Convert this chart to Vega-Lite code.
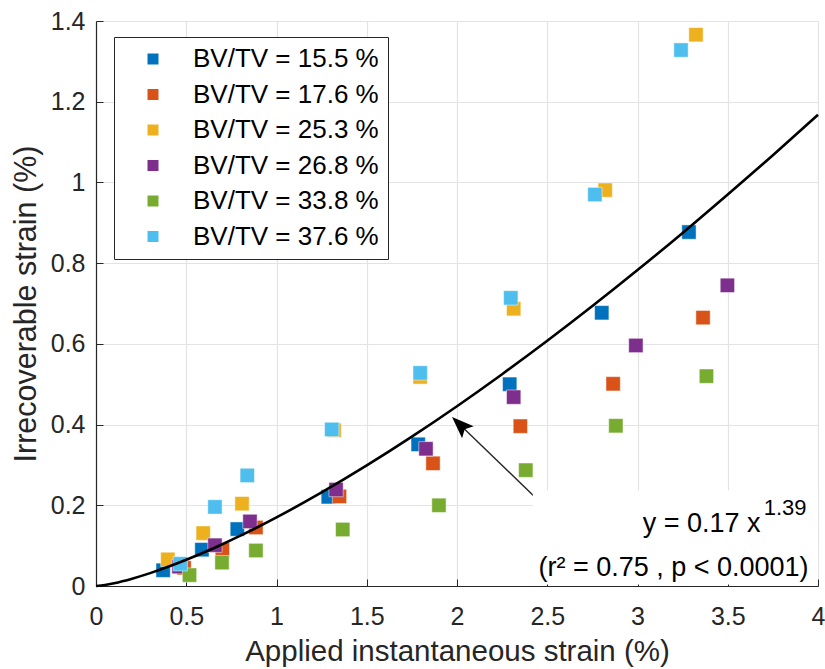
{
  "$schema": "https://vega.github.io/schema/vega-lite/v6.json",
  "width": 722,
  "height": 565,
  "autosize": {"type": "none"},
  "padding": {"left": 96, "top": 21, "right": 7, "bottom": 83},
  "background": "white",
  "config": {
    "view": {"stroke": null},
    "axis": {
      "domainColor": "#262626",
      "domainWidth": 1.2,
      "tickColor": "#262626",
      "tickSize": -7,
      "labelColor": "#262626",
      "titleColor": "#262626",
      "labelFont": "Liberation Sans",
      "titleFont": "Liberation Sans",
      "labelFontSize": 25,
      "titleFontSize": 29,
      "titleFontWeight": "normal",
      "labelFlush": false,
      "gridColor": "#e3e3e3",
      "gridWidth": 1.2,
      "zindex": 0
    }
  },
  "datasets": {
    "points": [
      {"group": "BV/TV = 15.5 %", "x": 0.372, "y": 0.039},
      {"group": "BV/TV = 15.5 %", "x": 0.587, "y": 0.09},
      {"group": "BV/TV = 15.5 %", "x": 0.783, "y": 0.141},
      {"group": "BV/TV = 15.5 %", "x": 1.287, "y": 0.221},
      {"group": "BV/TV = 15.5 %", "x": 1.785, "y": 0.351},
      {"group": "BV/TV = 15.5 %", "x": 2.292, "y": 0.5},
      {"group": "BV/TV = 15.5 %", "x": 2.802, "y": 0.677},
      {"group": "BV/TV = 15.5 %", "x": 3.285, "y": 0.877},
      {"group": "BV/TV = 17.6 %", "x": 0.488, "y": 0.045},
      {"group": "BV/TV = 17.6 %", "x": 0.7, "y": 0.09},
      {"group": "BV/TV = 17.6 %", "x": 0.886, "y": 0.145},
      {"group": "BV/TV = 17.6 %", "x": 1.349, "y": 0.222},
      {"group": "BV/TV = 17.6 %", "x": 1.867, "y": 0.304},
      {"group": "BV/TV = 17.6 %", "x": 2.351, "y": 0.396},
      {"group": "BV/TV = 17.6 %", "x": 2.865, "y": 0.501},
      {"group": "BV/TV = 17.6 %", "x": 3.363, "y": 0.665},
      {"group": "BV/TV = 25.3 %", "x": 0.398, "y": 0.066},
      {"group": "BV/TV = 25.3 %", "x": 0.594, "y": 0.131},
      {"group": "BV/TV = 25.3 %", "x": 0.809, "y": 0.204},
      {"group": "BV/TV = 25.3 %", "x": 1.319, "y": 0.386},
      {"group": "BV/TV = 25.3 %", "x": 1.796, "y": 0.518},
      {"group": "BV/TV = 25.3 %", "x": 2.314, "y": 0.687},
      {"group": "BV/TV = 25.3 %", "x": 2.821, "y": 0.981},
      {"group": "BV/TV = 25.3 %", "x": 3.324, "y": 1.366},
      {"group": "BV/TV = 26.8 %", "x": 0.46, "y": 0.048},
      {"group": "BV/TV = 26.8 %", "x": 0.659, "y": 0.101},
      {"group": "BV/TV = 26.8 %", "x": 0.853, "y": 0.16},
      {"group": "BV/TV = 26.8 %", "x": 1.33, "y": 0.239},
      {"group": "BV/TV = 26.8 %", "x": 1.828, "y": 0.34},
      {"group": "BV/TV = 26.8 %", "x": 2.314, "y": 0.468},
      {"group": "BV/TV = 26.8 %", "x": 2.991, "y": 0.596},
      {"group": "BV/TV = 26.8 %", "x": 3.498, "y": 0.745},
      {"group": "BV/TV = 33.8 %", "x": 0.518, "y": 0.027},
      {"group": "BV/TV = 33.8 %", "x": 0.698, "y": 0.058},
      {"group": "BV/TV = 33.8 %", "x": 0.886, "y": 0.088},
      {"group": "BV/TV = 33.8 %", "x": 1.367, "y": 0.14},
      {"group": "BV/TV = 33.8 %", "x": 1.9, "y": 0.2},
      {"group": "BV/TV = 33.8 %", "x": 2.381, "y": 0.287},
      {"group": "BV/TV = 33.8 %", "x": 2.88, "y": 0.397},
      {"group": "BV/TV = 33.8 %", "x": 3.382, "y": 0.52},
      {"group": "BV/TV = 37.6 %", "x": 0.467, "y": 0.055},
      {"group": "BV/TV = 37.6 %", "x": 0.659, "y": 0.196},
      {"group": "BV/TV = 37.6 %", "x": 0.838, "y": 0.274},
      {"group": "BV/TV = 37.6 %", "x": 1.306, "y": 0.388},
      {"group": "BV/TV = 37.6 %", "x": 1.796, "y": 0.528},
      {"group": "BV/TV = 37.6 %", "x": 2.298, "y": 0.714},
      {"group": "BV/TV = 37.6 %", "x": 2.764, "y": 0.97},
      {"group": "BV/TV = 37.6 %", "x": 3.241, "y": 1.328}
    ],
    "curve": [
      {"x": 0, "y": 0},
      {"x": 0.05, "y": 0.00264},
      {"x": 0.1, "y": 0.00692},
      {"x": 0.2, "y": 0.01815},
      {"x": 0.3, "y": 0.03189},
      {"x": 0.4, "y": 0.04757},
      {"x": 0.5, "y": 0.06487},
      {"x": 0.6, "y": 0.08358},
      {"x": 0.7, "y": 0.10355},
      {"x": 0.8, "y": 0.12466},
      {"x": 0.9, "y": 0.14684},
      {"x": 1.0, "y": 0.17},
      {"x": 1.25, "y": 0.23182},
      {"x": 1.5, "y": 0.29868},
      {"x": 1.75, "y": 0.37007},
      {"x": 2.0, "y": 0.44553},
      {"x": 2.25, "y": 0.52479},
      {"x": 2.5, "y": 0.60755},
      {"x": 2.75, "y": 0.69362},
      {"x": 3.0, "y": 0.78283},
      {"x": 3.25, "y": 0.87494},
      {"x": 3.5, "y": 0.96992},
      {"x": 3.75, "y": 1.06752},
      {"x": 4.0, "y": 1.16766}
    ]
  },
  "layer": [
    {
      "data": {"name": "points"},
      "mark": {"type": "point", "shape": "square", "filled": true, "size": 205, "opacity": 1, "stroke": "white", "strokeWidth": 0.8, "strokeOpacity": 0.6},
      "encoding": {
        "x": {
          "field": "x", "type": "quantitative",
          "scale": {"domain": [0, 4], "nice": false, "zero": true},
          "axis": {"values": [0, 0.5, 1, 1.5, 2, 2.5, 3, 3.5, 4], "format": "~g", "title": "Applied instantaneous strain (%)", "labelPadding": 25, "titlePadding": 8, "titleFontSize": 29.5}
        },
        "y": {
          "field": "y", "type": "quantitative",
          "scale": {"domain": [0, 1.4], "nice": false, "zero": true},
          "axis": {"values": [0, 0.2, 0.4, 0.6, 0.8, 1, 1.2, 1.4], "format": "~g", "title": "Irrecoverable strain (%)", "labelPadding": 18, "titlePadding": 9, "titleFontSize": 30.5}
        },
        "color": {
          "field": "group", "type": "nominal",
          "scale": {
            "domain": ["BV/TV = 15.5 %", "BV/TV = 17.6 %", "BV/TV = 25.3 %", "BV/TV = 26.8 %", "BV/TV = 33.8 %", "BV/TV = 37.6 %"],
            "range": ["#0072BD", "#D95319", "#EDB120", "#7E2F8E", "#77AC30", "#4DBEEE"]
          },
          "legend": {
            "title": null,
            "orient": "none",
            "legendX": 18,
            "legendY": 16,
            "symbolType": "square",
            "symbolSize": 121,
            "symbolStrokeWidth": 0,
            "labelFont": "Liberation Sans",
            "labelFontSize": 26,
            "labelColor": "black",
            "labelLimit": 400,
            "padding": 9,
            "symbolOffset": 17,
            "labelOffset": 27,
            "rowPadding": 9.5,
            "strokeColor": "#262626",
            "fillColor": "white"
          }
        }
      }
    },
    {
      "data": {"name": "curve"},
      "mark": {"type": "line", "color": "black", "strokeWidth": 2.6, "interpolate": "monotone"},
      "encoding": {
        "x": {"field": "x", "type": "quantitative"},
        "y": {"field": "y", "type": "quantitative"}
      }
    },
    {
      "data": {"values": [{}]},
      "mark": {"type": "rule", "color": "#262626", "strokeWidth": 1.4},
      "encoding": {
        "x": {"datum": 2.031}, "y": {"datum": 0.3935},
        "x2": {"datum": 2.49}, "y2": {"datum": 0.195}
      }
    },
    {
      "data": {"values": [{}]},
      "mark": {"type": "point", "shape": "M0,-1L0.57,0.5L0,0.2L-0.57,0.5Z", "filled": true, "color": "black", "opacity": 1, "size": 860, "angle": 313.9},
      "encoding": {
        "x": {"datum": 2.031}, "y": {"datum": 0.3935}
      }
    },
    {
      "data": {"values": [{}]},
      "mark": {"type": "rect", "color": "white", "opacity": 1},
      "encoding": {
        "x": {"datum": 2.42}, "x2": {"datum": 4},
        "y": {"datum": 0.004}, "y2": {"datum": 0.237}
      }
    },
    {
      "data": {"values": [{}]},
      "mark": {"type": "text", "text": "y = 0.17 x", "align": "right", "baseline": "alphabetic", "font": "Liberation Sans", "fontSize": 27, "color": "black"},
      "encoding": {"x": {"datum": 3.682}, "y": {"datum": 0.1338}}
    },
    {
      "data": {"values": [{}]},
      "mark": {"type": "text", "text": "1.39", "align": "left", "baseline": "alphabetic", "font": "Liberation Sans", "fontSize": 22, "color": "black"},
      "encoding": {"x": {"datum": 3.699}, "y": {"datum": 0.175}}
    },
    {
      "data": {"values": [{}]},
      "mark": {"type": "text", "text": "(r² = 0.75 , p < 0.0001)", "align": "right", "baseline": "alphabetic", "font": "Liberation Sans", "fontSize": 27, "color": "black"},
      "encoding": {"x": {"datum": 3.948}, "y": {"datum": 0.024}}
    }
  ]
}
